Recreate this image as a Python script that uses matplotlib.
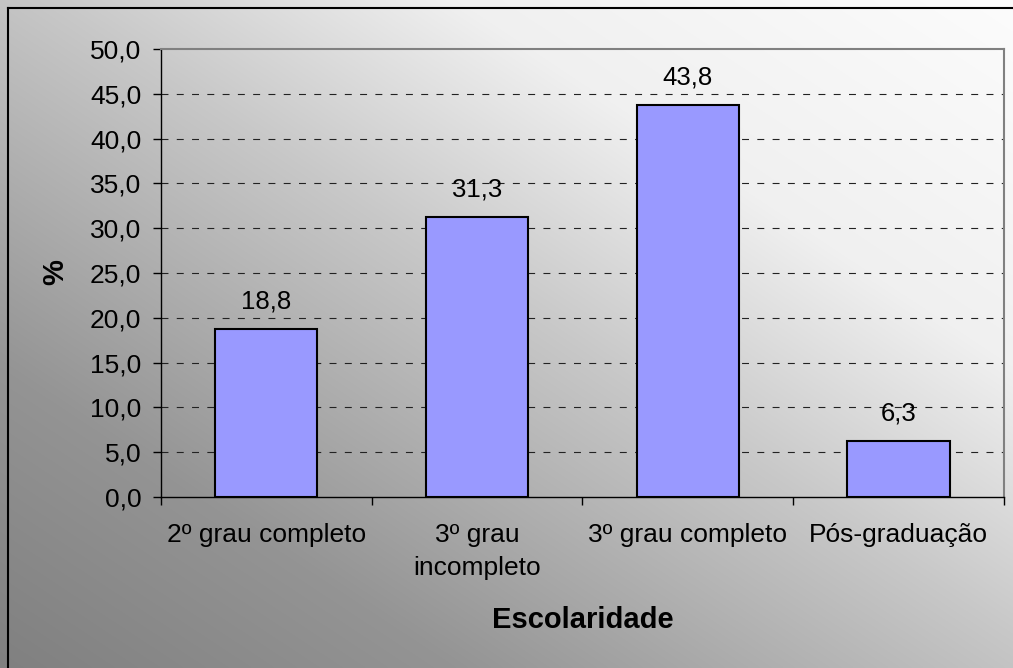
import numpy as np
import matplotlib
matplotlib.use("Agg")
import matplotlib.pyplot as plt
from matplotlib.ticker import FixedLocator, FuncFormatter
from matplotlib.lines import Line2D

categories = ["2º grau completo", "3º grau\nincompleto", "3º grau completo", "Pós-graduação"]
values = [18.8, 31.3, 43.8, 6.3]
yticks = [0, 5, 10, 15, 20, 25, 30, 35, 40, 45, 50]
xlabel = "Escolaridade"
ylabel = "%"

plt.rcParams['font.family'] = ['Liberation Sans', 'DejaVu Sans']
plt.rcParams['lines.scale_dashes'] = False

W, H = 1013, 668
fig = plt.figure(figsize=(W / 100, H / 100), dpi=100)

# gradient background (grey bottom-left to near-white top-right)
bg = fig.add_axes([0, 0, 1, 1], zorder=-10)
xx, yy = np.meshgrid(np.linspace(0, 1, 500), np.linspace(0, 1, 340))
s = xx + yy
g = np.interp(s, [0.0, 0.45, 1.05, 1.45, 2.0], [128, 148, 200, 240, 252])
img = np.dstack([g, g, g]) / 255.0
bg.imshow(img, origin='lower', extent=[0, 1, 0, 1], aspect='auto', interpolation='bilinear')
bg.set_xlim(0, 1); bg.set_ylim(0, 1)
bg.axis('off')
bx = 7.5 / W
by = 1 - 7.5 / H
bg.add_line(Line2D([bx, bx], [0, by], color='black', lw=1.5))
bg.add_line(Line2D([bx, 1], [by, by], color='black', lw=1.5))

left, right = 160.7 / W, 1004 / W
top, bottom = 1 - 49 / H, 1 - 497 / H
ax = fig.add_axes([left, bottom, right - left, top - bottom])
ax.patch.set_alpha(0)

x = np.arange(len(categories))
ax.bar(x, values, width=0.485, color='#9999FF', edgecolor='black', linewidth=1.5, zorder=3)

ax.set_xlim(-0.5, len(categories) - 0.5)
ax.set_ylim(0, 50)
ax.yaxis.set_major_locator(FixedLocator(yticks))
ax.yaxis.set_major_formatter(FuncFormatter(lambda v, p: f"{v:.1f}".replace('.', ',')))
for yv in yticks[1:-1]:
    ax.axhline(yv, color='#222222', lw=0.8, linestyle=(0, (5.0, 6.0)), zorder=1)

ax.set_xticks(x)
ax.set_xticklabels(categories, fontsize=19, linespacing=1.45, va='top')
ax.xaxis.set_minor_locator(FixedLocator(np.arange(-0.5, len(categories), 1.0)))
ax.tick_params(axis='x', which='major', length=0, pad=19)
ax.tick_params(axis='x', which='minor', length=6, width=1, direction='out', color='black')
ax.tick_params(axis='y', length=6, width=1, direction='out', labelsize=19, pad=8, color='black')

for sp in ['top', 'right']:
    ax.spines[sp].set_color('#808080')
    ax.spines[sp].set_linewidth(1.5)
for sp in ['left', 'bottom']:
    ax.spines[sp].set_color('black')
    ax.spines[sp].set_linewidth(1)

for xi, v in zip(x, values):
    ax.annotate(f"{v:.1f}".replace('.', ','), (xi, v), xytext=(0, 11), textcoords='offset points',
                ha='center', va='bottom', fontsize=18.5, zorder=4)

fig.text((left + right) / 2, 1 - 620 / H, xlabel, ha='center', va='center', fontsize=21, fontweight='bold')
fig.text(55 / W, 1 - 272 / H, ylabel, ha='center', va='center', fontsize=21, fontweight='bold', rotation=90)

fig.savefig("out.png", dpi=100)
